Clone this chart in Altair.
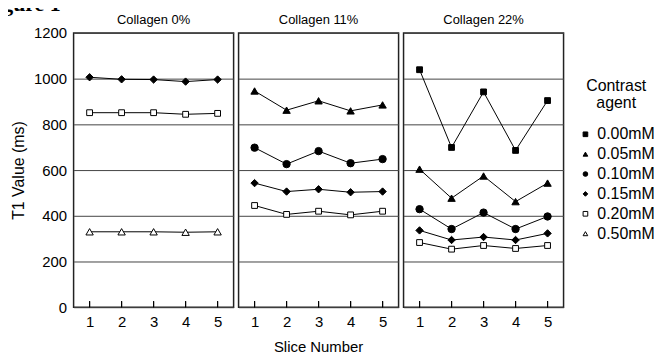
import altair as alt
import pandas as pd

slices = [1, 2, 3, 4, 5]
panels = ["Collagen 0%", "Collagen 11%", "Collagen 22%"]
agents = ["0.00mM", "0.05mM", "0.10mM", "0.15mM", "0.20mM", "0.50mM"]

# T1 values (ms) per panel and contrast agent
c0_015 = [1006, 997, 996, 987, 996]
c0_020 = [851, 851, 851, 844, 848]
c0_050 = [330, 330, 330, 328, 330]

c11_005 = [946, 862, 903, 859, 885]
c11_010 = [698, 626, 683, 630, 648]
c11_015 = [543, 506, 516, 503, 506]
c11_020 = [445, 406, 420, 404, 420]

c22_000 = [1039, 699, 942, 686, 904]
c22_005 = [604, 477, 574, 462, 543]
c22_010 = [429, 342, 414, 342, 397]
c22_015 = [336, 294, 307, 294, 323]
c22_020 = [283, 254, 270, 257, 270]

series = [
    ("Collagen 0%", "0.15mM", c0_015),
    ("Collagen 0%", "0.20mM", c0_020),
    ("Collagen 0%", "0.50mM", c0_050),
    ("Collagen 11%", "0.05mM", c11_005),
    ("Collagen 11%", "0.10mM", c11_010),
    ("Collagen 11%", "0.15mM", c11_015),
    ("Collagen 11%", "0.20mM", c11_020),
    ("Collagen 22%", "0.00mM", c22_000),
    ("Collagen 22%", "0.05mM", c22_005),
    ("Collagen 22%", "0.10mM", c22_010),
    ("Collagen 22%", "0.15mM", c22_015),
    ("Collagen 22%", "0.20mM", c22_020),
]
rows = []
for panel, agent, vals in series:
    for s, v in zip(slices, vals):
        rows.append({"panel": panel, "agent": agent, "slice": s, "t1": v})
df = pd.DataFrame(rows)

FONT = "Liberation Sans"
H = 276
W = 161
LEG_TITLE = ["Contrast", "agent"]
square_agents = ["0.00mM", "0.20mM"]

x = alt.X("slice:Q", title=None,
          scale=alt.Scale(domain=[0.5, 5.5], nice=False, zero=False),
          axis=alt.Axis(values=slices, grid=False, ticks=False, domain=False,
                        labelFontSize=15, labelPadding=7, format="d"))
y = alt.Y("t1:Q", title="T1 Value (ms)",
          scale=alt.Scale(domain=[0, 1200], nice=False),
          axis=alt.Axis(values=[0, 200, 400, 600, 800, 1000, 1200], grid=True,
                        gridColor="#444", gridWidth=1, ticks=False, domain=False,
                        labelFontSize=15, labelPadding=7, titleFontSize=16,
                        titleFontWeight="normal", titlePadding=7, format="d"))

shape = alt.Shape("agent:N", title=LEG_TITLE,
                  scale=alt.Scale(domain=agents,
                                  range=["square", "triangle-up", "circle", "diamond", "square", "triangle-up"]))
fill = alt.Fill("agent:N", title=LEG_TITLE,
                scale=alt.Scale(domain=agents,
                                range=["black", "black", "black", "black", "white", "white"]))
stroke = alt.Stroke("agent:N", title=LEG_TITLE,
                    scale=alt.Scale(domain=agents, range=["black"] * 6))

base = alt.Chart(df)
lines = base.mark_line(color="black", strokeWidth=1).encode(
    x=x, y=y, detail="agent:N", order="slice:Q")
pts_sq = base.mark_point(filled=True, strokeWidth=1, opacity=1, size=34).encode(
    x=x, y=y, shape=shape, fill=fill, stroke=stroke
).transform_filter(alt.FieldOneOfPredicate(field="agent", oneOf=square_agents))
pts_other = base.mark_point(filled=True, strokeWidth=1, opacity=1, size=55).encode(
    x=x, y=y, shape=shape, fill=fill, stroke=stroke
).transform_filter(~alt.FieldOneOfPredicate(field="agent", oneOf=square_agents))
ticks = base.mark_rule(color="black", strokeWidth=1).encode(
    x=alt.X("slice:Q"), y=alt.value(H - 6), y2=alt.value(H))
xtitle = base.mark_text(font=FONT, fontSize=15, color="black", baseline="middle").encode(
    x=alt.value(W / 2), y=alt.value(H + 40), text=alt.value("Slice Number")
).transform_filter(
    (alt.datum.panel == "Collagen 11%") & (alt.datum.slice == 3) & (alt.datum.agent == "0.15mM")
)

chart = alt.layer(lines, ticks, pts_sq, pts_other, xtitle).properties(width=W, height=H).facet(
    column=alt.Column("panel:N", sort=panels,
                      header=alt.Header(title=None, labelFontSize=13, labelFont=FONT,
                                        labelPadding=6)),
    spacing=5,
    bounds="flush",
).properties(
    title=alt.TitleParams("Figure 1", anchor="start", font="Liberation Serif",
                          fontSize=22, fontWeight="bold", dx=-28, offset=-2),
    padding={"left": -26, "top": -16, "right": -1, "bottom": -3},
).configure_view(
    stroke="#222", strokeWidth=1.5
).configure_axis(
    labelFont=FONT, titleFont=FONT, labelColor="black", titleColor="black"
).configure_legend(
    labelFont=FONT, titleFont=FONT, labelFontSize=16, titleFontSize=16,
    titleFontWeight="normal", titleAlign="center", titleAnchor="middle",
    titleLineHeight=18,
    symbolSize=22, symbolStrokeWidth=1, symbolStrokeColor="black",
    rowPadding=4, titlePadding=15, padding=0,
    orient="none", legendX=507, legendY=45,
)

chart.save("out.html", embed_options={"renderer": "svg", "actions": False})
